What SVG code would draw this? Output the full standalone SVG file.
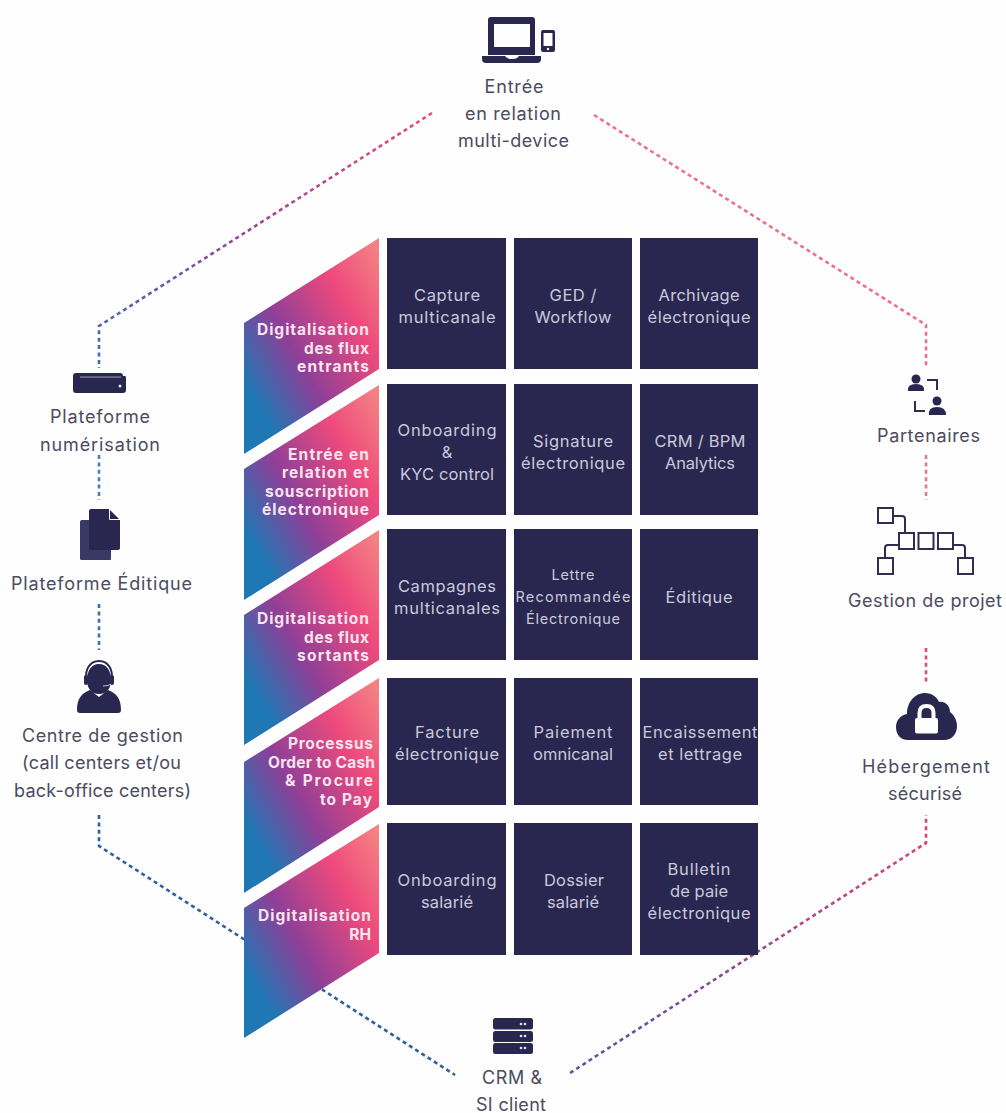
<svg xmlns="http://www.w3.org/2000/svg" width="1006" height="1113" viewBox="0 0 1006 1113">
<style>
text{font-family:"Inter","Open Sans","Liberation Sans",sans-serif}
.l{font-size:18px;fill:#4b4b5f;text-anchor:middle}
.c{font-size:16.5px;fill:#c9c9dc;text-anchor:middle}
.c2{font-size:14.5px}
.b{font-size:15.5px;font-weight:700;fill:#fbe4ef;text-anchor:end}
.cell{fill:#29274f}
.ic{fill:#29274f}
.is{fill:none;stroke:#2f2d52;stroke-width:2}
.d{fill:none;stroke-width:2.6;stroke-dasharray:4 3.4}
</style>
<defs>
<linearGradient id="g" x1="0.1" y1="0.88" x2="1" y2="0.06">
<stop offset="0.06" stop-color="#1f78b4"/><stop offset="0.36" stop-color="#8e3f98"/><stop offset="0.72" stop-color="#ee4a7c"/><stop offset="1" stop-color="#f48283"/>
</linearGradient>
<linearGradient id="tl" gradientUnits="userSpaceOnUse" x1="432" y1="113" x2="99" y2="368">
<stop offset="0" stop-color="#ea4f78"/><stop offset="0.55" stop-color="#8e4a9c"/><stop offset="1" stop-color="#3f6fb0"/>
</linearGradient>
<linearGradient id="br" gradientUnits="userSpaceOnUse" x1="570" y1="1073" x2="926" y2="815">
<stop offset="0" stop-color="#4a5aa5"/><stop offset="0.5" stop-color="#a04590"/><stop offset="1" stop-color="#e0426f"/>
</linearGradient>
</defs>
<rect width="1006" height="1113" fill="#fefefe"/>
<g id="connectors">
<path class="d" stroke="url(#tl)" d="M432 113L99 326V368"/>
<path class="d" stroke="#f0708a" d="M594 115L926 325V368"/>
<path class="d" stroke="#4a7fb5" d="M99 455V500"/>
<path class="d" stroke="#3f6fa8" d="M99 604V650"/>
<path class="d" stroke="#2f5f9f" d="M99 815V846L455 1075"/>
<path class="d" stroke="#e07a90" d="M926 455V500"/>
<path class="d" stroke="#d8507a" d="M926 648V682"/>
<path class="d" stroke="url(#br)" d="M570 1073L926 843V815"/>
</g>
<g id="band-1"><polygon fill="url(#g)" points="379,238 244,323 244,454 379,369"/><text class="b" x="369" y="335" textLength="112">Digitalisation</text><text class="b" x="369" y="354" textLength="65">des flux</text><text class="b" x="369" y="372" textLength="72">entrants</text></g>
<g id="band-2"><polygon fill="url(#g)" points="379,385 244,469 244,600 379,515"/><text class="b" x="369" y="460" textLength="81">Entrée en</text><text class="b" x="369" y="478" textLength="87">relation et</text><text class="b" x="369" y="497" textLength="104">souscription</text><text class="b" x="369" y="515" textLength="107">électronique</text></g>
<g id="band-3"><polygon fill="url(#g)" points="379,530 244,615 244,745 379,660"/><text class="b" x="369" y="624" textLength="112">Digitalisation</text><text class="b" x="369" y="643" textLength="65">des flux</text><text class="b" x="369" y="661" textLength="72">sortants</text></g>
<g id="band-4"><polygon fill="url(#g)" points="379,678 244,762 244,893 379,807"/><text class="b" x="373" y="749" textLength="85">Processus</text><text class="b" x="375" y="768" textLength="107">Order to Cash</text><text class="b" x="373" y="786" textLength="88">&amp; Procure</text><text class="b" x="372" y="805" textLength="52">to Pay</text></g>
<g id="band-5"><polygon fill="url(#g)" points="379,824 244,908 244,1038 379,953"/><text class="b" x="371" y="921" textLength="113">Digitalisation</text><text class="b" x="371" y="940">RH</text></g>

<g id="cell-capture"><rect class="cell" x="387" y="238" width="119" height="131"/><text class="c" x="447" y="301" textLength="66">Capture</text><text class="c" x="447" y="323" textLength="97">multicanale</text></g>
<g id="cell-ged"><rect class="cell" x="514" y="238" width="118" height="131"/><text class="c" x="573" y="301" textLength="47">GED /</text><text class="c" x="573" y="323" textLength="77">Workflow</text></g>
<g id="cell-archivage"><rect class="cell" x="640" y="238" width="118" height="131"/><text class="c" x="699" y="301" textLength="81">Archivage</text><text class="c" x="699" y="323" textLength="103">électronique</text></g>
<g id="cell-onboarding"><rect class="cell" x="387" y="384" width="119" height="131"/><text class="c" x="447" y="436" textLength="99">Onboarding</text><text class="c" x="447" y="458">&amp;</text><text class="c" x="447" y="480" textLength="94">KYC control</text></g>
<g id="cell-signature"><rect class="cell" x="514" y="384" width="118" height="131"/><text class="c" x="573" y="447" textLength="80">Signature</text><text class="c" x="573" y="469" textLength="104">électronique</text></g>
<g id="cell-crm"><rect class="cell" x="640" y="384" width="118" height="131"/><text class="c" x="700" y="447" textLength="91">CRM / BPM</text><text class="c" x="700" y="469" textLength="70">Analytics</text></g>
<g id="cell-campagnes"><rect class="cell" x="387" y="529" width="119" height="131"/><text class="c" x="447" y="592" textLength="98">Campagnes</text><text class="c" x="447" y="614" textLength="106">multicanales</text></g>
<g id="cell-lettre"><rect class="cell" x="514" y="529" width="118" height="131"/><text class="c c2" x="573" y="580" textLength="43">Lettre</text><text class="c c2" x="573" y="602" textLength="115">Recommandée</text><text class="c c2" x="573" y="624" textLength="94">Électronique</text></g>
<g id="cell-editique"><rect class="cell" x="640" y="529" width="118" height="131"/><text class="c" x="699" y="603" textLength="67">Éditique</text></g>
<g id="cell-facture"><rect class="cell" x="387" y="678" width="119" height="127"/><text class="c" x="447" y="738" textLength="64">Facture</text><text class="c" x="447" y="760" textLength="104">électronique</text></g>
<g id="cell-paiement"><rect class="cell" x="514" y="678" width="118" height="127"/><text class="c" x="573" y="738" textLength="79">Paiement</text><text class="c" x="573" y="760" textLength="80">omnicanal</text></g>
<g id="cell-encaissement"><rect class="cell" x="640" y="678" width="118" height="127"/><text class="c" x="700" y="738" textLength="115">Encaissement</text><text class="c" x="700" y="760" textLength="84">et lettrage</text></g>
<g id="cell-onboarding-salarie"><rect class="cell" x="387" y="823" width="119" height="132"/><text class="c" x="447" y="886" textLength="99">Onboarding</text><text class="c" x="447" y="908" textLength="52">salarié</text></g>
<g id="cell-dossier"><rect class="cell" x="514" y="823" width="118" height="132"/><text class="c" x="574" y="886" textLength="60">Dossier</text><text class="c" x="573" y="908" textLength="52">salarié</text></g>
<g id="cell-bulletin"><rect class="cell" x="640" y="823" width="118" height="132"/><text class="c" x="699" y="875" textLength="63">Bulletin</text><text class="c" x="699" y="897" textLength="58">de paie</text><text class="c" x="699" y="919" textLength="103">électronique</text></g>

<g id="node-entree">
<path class="ic" fill-rule="evenodd" d="M491 17H532Q535 17 535 20V55H488V20Q488 17 491 17ZM494 24V47H530V24Z"/>
<path class="ic" d="M482 56H505Q507 59 511 59H513Q517 59 519 56H541V59Q541 63 537 63H486Q482 63 482 59Z"/>
<path class="ic" fill-rule="evenodd" d="M543 30H553Q555 30 555 32V50Q555 52 553 52H543Q541 52 541 50V32Q541 30 543 30ZM543.500 33V46H552.500V33Z"/>
<circle cx="548" cy="49" r="1.200" fill="#fff"/>
<text class="l" x="514" y="93" textLength="59">Entrée</text><text class="l" x="513" y="120" textLength="96">en relation</text><text class="l" x="513.500" y="147" textLength="111">multi-device</text>
</g>
<g id="node-numerisation">
<path class="ic" d="M76 373H120Q123 373 123 376H125Q126 376 126 378V390Q126 393 123 393H76Q73 393 73 390V376Q73 373 76 373Z"/>
<rect x="80" y="376.500" width="41" height="1.200" fill="#8d8cab"/><circle cx="120" cy="386" r="1.500" fill="#e8e8f2"/>
<text class="l" x="100" y="423" textLength="100">Plateforme</text><text class="l" x="100" y="451" textLength="120">numérisation</text>
</g>
<g id="node-editique">
<path d="M82 520H110Q111 520 111 521V559Q111 560 110 560H82Q80 560 80 559V522Q80 520 82 520Z" fill="#3a3864"/>
<path class="ic" d="M91 509H109L120 520V548Q120 550 118 550H91Q89 550 89 548V511Q89 509 91 509Z"/>
<path d="M109.500 509V519.500H120" fill="none" stroke="#fefefe" stroke-width="1"/>
<text class="l" x="101.500" y="590" textLength="181">Plateforme Éditique</text>
</g>
<g id="node-centre">
<path class="ic" d="M99 664C107 664 111 671 111 680C111 688 107 694 99 694C91 694 87 688 87 680C87 671 91 664 99 664Z"/>
<path d="M87 680C84 670 90 661 99 661C108 661 114 670 111 680" fill="none" stroke="#29274f" stroke-width="2"/>
<rect x="84" y="675" width="4" height="10" rx="2" class="ic"/><rect x="110" y="675" width="4" height="10" rx="2" class="ic"/>
<path class="ic" d="M90 690L99 697L108 690C116 693 121 698 121 710Q121 713 118 713H80Q77 713 77 710C77 698 82 693 90 690Z"/>
<path d="M111 684Q109 686 103 686" fill="none" stroke="#b9b8d0" stroke-width="1"/>
<text class="l" x="102.500" y="742" textLength="161">Centre de gestion</text><text class="l" x="101.500" y="769" textLength="159">(call centers et/ou</text><text class="l" x="102.500" y="797" textLength="177">back-office centers)</text>
</g>
<g id="node-partenaires">
<circle class="ic" cx="916" cy="379" r="4.500"/><path class="ic" d="M908 391Q907 384 916 384Q925 384 924 391Z"/>
<path class="is" d="M927 380H937V390"/>
<circle class="ic" cx="937" cy="401" r="4.500"/><path class="ic" d="M929 415Q928 407 937 407Q946 407 946 415Z"/>
<path class="is" d="M915 401V411H925"/>
<text class="l" x="928.500" y="442" textLength="103">Partenaires</text>
</g>
<g id="node-gestion">
<rect class="is" x="878" y="508" width="15" height="15"/>
<rect class="is" x="899" y="533" width="15" height="16"/><rect class="is" x="918.500" y="533" width="15" height="16"/><rect class="is" x="938" y="533" width="15" height="16"/>
<rect class="is" x="878" y="558" width="15" height="16"/><rect class="is" x="958" y="558" width="15" height="16"/>
<path class="is" d="M893 516H902Q905 516 905 519V533M899 545H888Q885 545 885 548V558M953 545H962Q965 545 965 548V558"/>
<text class="l" x="925" y="607" textLength="154">Gestion de projet</text>
</g>
<g id="node-hebergement">
<path class="ic" d="M908 740C900 740 896 734 896 727C896 720 901 715 907 714C907 702 915 693 925 693C932 693 937 697 939 702C945 701 950 706 950 712C954 715 957 720 957 726C957 734 952 740 944 740Z"/>
<rect x="915" y="718" width="23" height="15.500" rx="2" fill="#fff"/>
<path d="M919.500 719V713Q919.500 706 926.500 706Q933.500 706 933.500 713V719" fill="none" stroke="#fff" stroke-width="4"/>
<text class="l" x="926" y="773" textLength="128">Hébergement</text><text class="l" x="925" y="800" textLength="74">sécurisé</text>
</g>
<g id="node-crm">
<rect class="ic" x="493" y="1018" width="40" height="11.500" rx="2.500"/><rect class="ic" x="493" y="1031" width="40" height="11" rx="2.500"/><rect class="ic" x="493" y="1043" width="40" height="11" rx="2.500"/>
<g fill="#e4e4f0"><circle cx="521" cy="1024" r="1.300"/><circle cx="525" cy="1024" r="1.300"/><circle cx="521" cy="1036" r="1.300"/><circle cx="525" cy="1036" r="1.300"/><circle cx="521" cy="1048" r="1.300"/><circle cx="525" cy="1048" r="1.300"/></g>
<text class="l" x="512" y="1084" textLength="60">CRM &amp;</text><text class="l" x="511" y="1111" textLength="70">SI client</text>
</g>
</svg>
